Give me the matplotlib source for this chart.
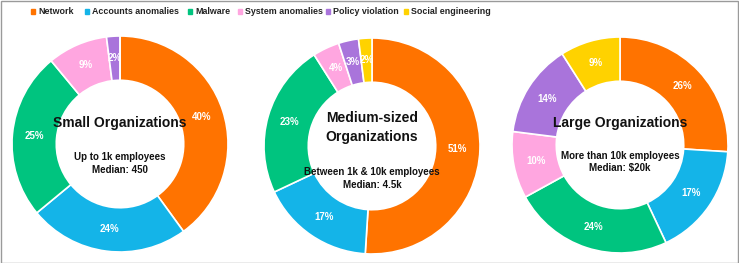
import matplotlib.pyplot as plt
import numpy as np
from matplotlib.patches import Rectangle

categories = ["Network", "Accounts anomalies", "Malware", "System anomalies",
              "Policy violation", "Social engineering"]
colors = ["#FF7300", "#14B4E8", "#00C47F", "#FFA6E0", "#A974DB", "#FFD200"]

small = [40, 24, 25, 9, 2, 0]
medium = [51, 17, 23, 4, 3, 2]
large = [26, 17, 24, 10, 14, 9]

titles = ["Small Organizations", "Medium-sized\nOrganizations", "Large Organizations"]
subtitles = ["Up to 1k employees\nMedian: 450",
             "Between 1k & 10k employees\nMedian: 4.5k",
             "More than 10k employees\nMedian: $20k"]

W, H = 739, 263
fig = plt.figure(figsize=(W / 100, H / 100), dpi=100)
plt.rcParams['font.family'] = ['Liberation Sans', 'DejaVu Sans']

centers = [(120, 144), (372, 146), (620, 145)]
R = 108
title_y = [0.19, 0.17, 0.2]
sub_y = [-0.18, -0.30, -0.16]

for k, vals in enumerate([small, medium, large]):
    cx, cy = centers[k]
    ax = fig.add_axes([(cx - R) / W, (H - cy - R) / H, 2 * R / W, 2 * R / H])
    ax.pie(vals, colors=colors, startangle=90, counterclock=False, radius=1.0,
           wedgeprops=dict(width=0.41, edgecolor='white', linewidth=1.2))
    total = sum(vals)
    start = 90.0
    for v in vals:
        if v == 0:
            continue
        ang = np.deg2rad(start - 360.0 * v / total / 2)
        r = 0.795
        ax.text(r * np.cos(ang), r * np.sin(ang), f"{v}%", ha='center', va='center',
                color='white', fontsize=7, fontweight='bold')
        start -= 360.0 * v / total
    ax.text(0, title_y[k], titles[k], ha='center', va='center', fontsize=10,
            fontweight='bold', color='#111111', linespacing=1.45)
    ax.text(0, sub_y[k], subtitles[k], ha='center', va='center', fontsize=7,
            fontweight='bold', color='#111111', linespacing=1.3)
    ax.set_xlim(-1, 1)
    ax.set_ylim(-1, 1)
    ax.set_aspect('equal')
    ax.axis('off')

# legend
leg_x = [33, 87, 190, 240, 328, 406]
for x, c, name in zip(leg_x, colors, categories):
    fig.patches.append(Rectangle(((x - 2) / W, (H - 14) / H), 4 / W, 5 / H,
                                 transform=fig.transFigure, color=c))
    fig.text((x + 5) / W, (H - 11) / H, name, ha='left', va='center',
             fontsize=6.4, fontweight='bold', color='#222222')

fig.patches.append(Rectangle((0.5 / W, 0.5 / H), (W - 1.5) / W, (H - 1.5) / H,
                             transform=fig.transFigure, fill=False,
                             edgecolor='#9a9a9a', linewidth=1))

fig.savefig("out.png", dpi=100)
